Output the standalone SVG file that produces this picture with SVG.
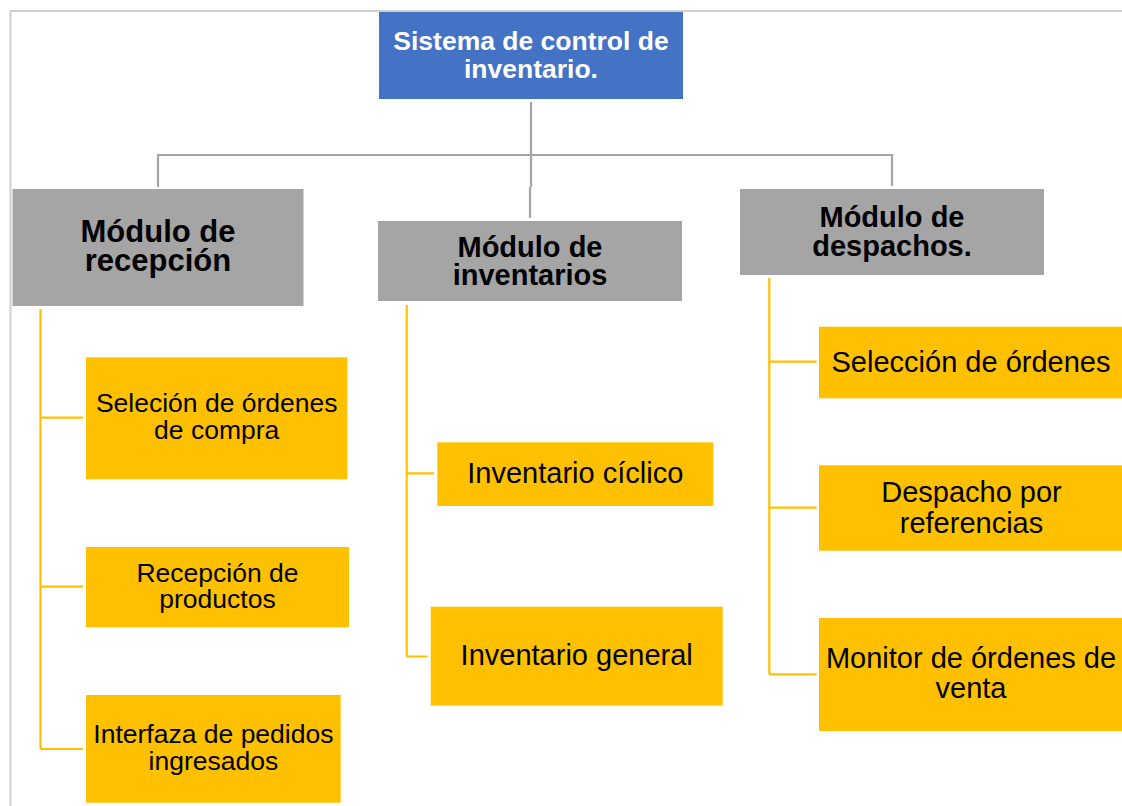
<svg xmlns="http://www.w3.org/2000/svg" width="1122" height="806" viewBox="0 0 1122 806">
<style>
.bg{fill:#ffffff}
.frame{fill:none;stroke:#d0d0d0;stroke-width:2}
.root{fill:#4472C4}
.mod{fill:#A5A5A5}
.leaf{fill:#FFC000}
.gline{fill:none;stroke:#A5A5A5;stroke-width:2.2}
.yline{fill:none;stroke:#FFC000;stroke-width:2.2}
text{font-family:"Liberation Sans",Arial,sans-serif;text-anchor:middle}
.t-root{font-size:26.5px;font-weight:bold;fill:#ffffff}
.t-mod{font-weight:bold;fill:#000000}
.t-leaf{fill:#000000}
</style>
<rect class="bg" x="0" y="0" width="1122" height="806"/>
<path class="frame" d="M10.5,806 V11 H1122"/>

<g id="connectors">
  <path class="gline" d="M531,102 V187 M530,187 V218"/>
  <path class="gline" d="M158,187 V155 H892 V186"/>
  <path class="yline" d="M40.5,309 V749 M40.5,417.7 H83 M40.5,586.7 H83 M40.5,749 H83"/>
  <path class="yline" d="M406.7,305 V656.5 M406.7,473.3 H434 M406.7,656.5 H427.5"/>
  <path class="yline" d="M769.3,278 V674.3 M769.3,361.7 H816.7 M769.3,507.7 H816.7 M769.3,674.3 H816.7"/>
</g>

<g id="root">
  <rect class="root" x="379" y="12" width="304" height="87"/>
  <text class="t-root"><tspan x="531" y="50">Sistema de control de</tspan><tspan x="531" y="77.7">inventario.</tspan></text>
</g>

<g id="mod-recepcion">
  <rect class="mod" x="12.5" y="189" width="291" height="117"/>
  <text class="t-mod" font-size="31"><tspan x="158" y="241.5">Módulo de</tspan><tspan x="158" y="271">recepción</tspan></text>
</g>

<g id="mod-inventarios">
  <rect class="mod" x="378" y="221" width="304" height="80"/>
  <text class="t-mod" font-size="29"><tspan x="530" y="257">Módulo de</tspan><tspan x="530" y="285">inventarios</tspan></text>
</g>

<g id="mod-despachos">
  <rect class="mod" x="740" y="189" width="304" height="86"/>
  <text class="t-mod" font-size="29"><tspan x="892" y="226.5">Módulo de</tspan><tspan x="892" y="256">despachos.</tspan></text>
</g>

<g id="leaf-seleccion-compra">
  <rect class="leaf" x="86" y="357.3" width="261.3" height="122"/>
  <text class="t-leaf" font-size="26.5"><tspan x="216.7" y="412.3">Seleción de órdenes</tspan><tspan x="216.7" y="439.3">de compra</tspan></text>
</g>

<g id="leaf-recepcion-productos">
  <rect class="leaf" x="86" y="547" width="263" height="80.3"/>
  <text class="t-leaf" font-size="26.5"><tspan x="217.5" y="581.7">Recepción de</tspan><tspan x="217.5" y="608.3">productos</tspan></text>
</g>

<g id="leaf-interfaza">
  <rect class="leaf" x="86" y="695" width="254.7" height="107.7"/>
  <text class="t-leaf" font-size="26.5"><tspan x="213.4" y="743.3">Interfaza de pedidos</tspan><tspan x="213.4" y="770">ingresados</tspan></text>
</g>

<g id="leaf-inv-ciclico">
  <rect class="leaf" x="437.3" y="442.3" width="276" height="63.7"/>
  <text class="t-leaf" font-size="29" x="575.3" y="483.3">Inventario cíclico</text>
</g>

<g id="leaf-inv-general">
  <rect class="leaf" x="430.7" y="606.7" width="292" height="99"/>
  <text class="t-leaf" font-size="29" x="576.7" y="665">Inventario general</text>
</g>

<g id="leaf-seleccion-ordenes">
  <rect class="leaf" x="819" y="326.7" width="303" height="71.6"/>
  <text class="t-leaf" font-size="29" x="971" y="371.7">Selección de órdenes</text>
</g>

<g id="leaf-despacho-ref">
  <rect class="leaf" x="819" y="465.3" width="303" height="85.4"/>
  <text class="t-leaf" font-size="29"><tspan x="971.5" y="501.7">Despacho por</tspan><tspan x="971.5" y="532.7">referencias</tspan></text>
</g>

<g id="leaf-monitor">
  <rect class="leaf" x="819" y="618" width="303" height="113"/>
  <text class="t-leaf" font-size="29"><tspan x="971" y="667.7">Monitor de órdenes de</tspan><tspan x="971" y="698.3">venta</tspan></text>
</g>
</svg>
